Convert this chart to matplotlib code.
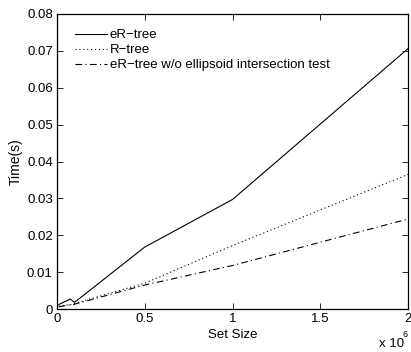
import matplotlib
matplotlib.use("Agg")
import matplotlib.pyplot as plt
from matplotlib.ticker import FuncFormatter

plt.rcParams['font.family'] = ['Liberation Sans', 'DejaVu Sans']

set_size = [0.01, 0.075, 0.1, 0.5, 1.0, 2.0]  # x 10^6
er_tree = [0.0012, 0.0027, 0.0018, 0.0168, 0.0297, 0.0706]
r_tree = [0.0008, 0.0012, 0.0015, 0.0070, 0.0172, 0.0365]
er_tree_noell = [0.0006, 0.0011, 0.0013, 0.0065, 0.0118, 0.0244]
labels = ['eR\u2212tree', 'R\u2212tree', 'eR\u2212tree w/o ellipsoid intersection test']

fig = plt.figure(figsize=(4.11, 3.52), dpi=100)
ax = fig.add_axes([57/411, 1-309/352, (408-57)/411, (309-14)/352])

ax.plot(set_size, er_tree, color='black', linestyle='-', linewidth=0.8, label=labels[0])
ax.plot(set_size, r_tree, color='black', linestyle=(0, (1, 2.5)), linewidth=0.8, label=labels[1])
ax.plot(set_size, er_tree_noell, color='black', linestyle=(0, (6, 3, 1, 3)), linewidth=0.8, label=labels[2])

ax.set_xlim(0, 2)
ax.set_ylim(0, 0.08)
ax.set_xticks([0, 0.5, 1, 1.5, 2])
ax.set_xticklabels(['0', '0.5', '1', '1.5', '2'])
ax.set_yticks([0, 0.01, 0.02, 0.03, 0.04, 0.05, 0.06, 0.07, 0.08])
ax.yaxis.set_major_formatter(FuncFormatter(lambda v, p: '0' if v == 0 else f'{v:.2f}'))
ax.tick_params(direction='in', top=True, right=True, length=4, width=0.6, labelsize=9.5, pad=3)
for s in ax.spines.values():
    s.set_linewidth(0.9)

ax.set_xlabel('Set Size', fontsize=9.5, labelpad=3)
ax.set_ylabel('Time(s)', fontsize=10, labelpad=3)

fig.text(379/411, 1-347/352, 'x 10', fontsize=9.5, ha='left', va='baseline')
fig.text(402/411, 1-337/352, '6', fontsize=6.5, ha='left', va='baseline')

leg = ax.legend(loc='upper left', frameon=False, fontsize=9.5, handlelength=2.4,
                handletextpad=0.25, labelspacing=0.2, borderaxespad=0.3,
                bbox_to_anchor=(0.025, 0.98))

fig.savefig('out.png', dpi=100)
